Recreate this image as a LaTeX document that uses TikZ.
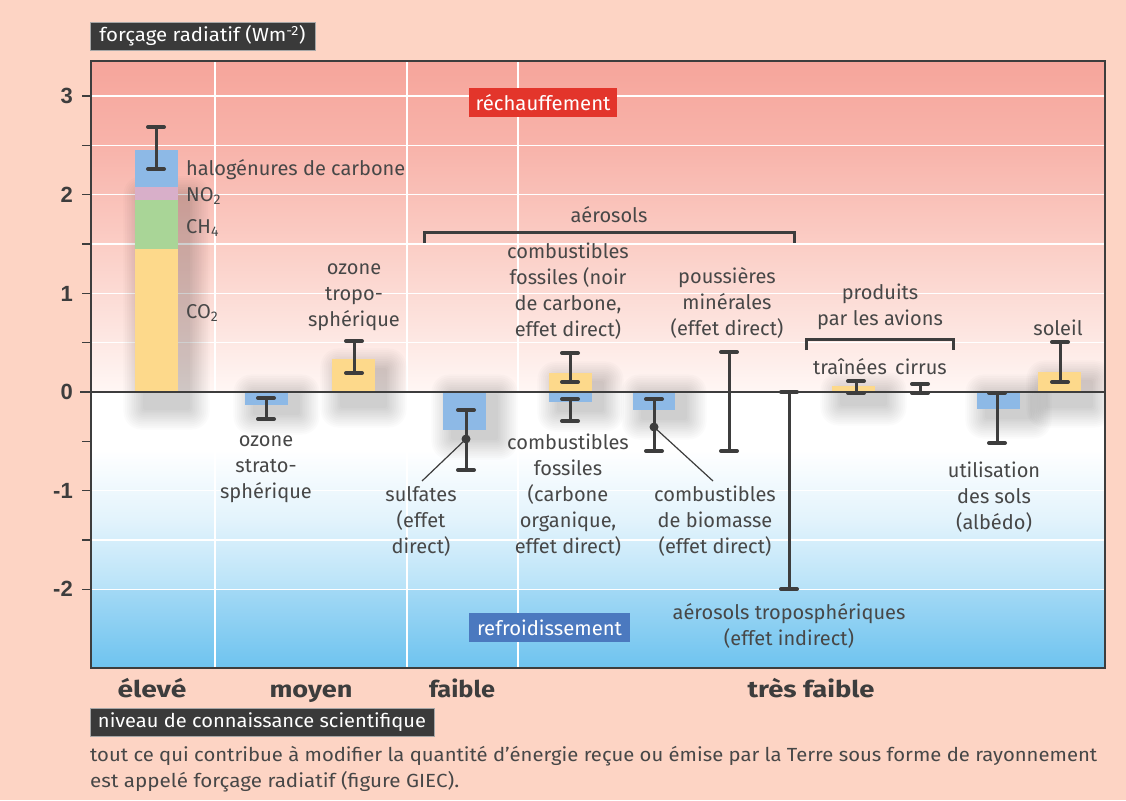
\documentclass[tikz,border=0pt]{standalone}
\usepackage{fontspec}
\usepackage{graphicx}
\setmainfont{Fira Sans}
\newfontfamily\numfont{Liberation Sans}
\definecolor{peach}{HTML}{FDD4C4}
\definecolor{dark}{HTML}{3D3D3D}
\definecolor{txt}{HTML}{474747}
\definecolor{colYel}{HTML}{FDD98B}
\definecolor{colGrn}{HTML}{A9D597}
\definecolor{colPnk}{HTML}{D8AFC9}
\definecolor{colBlu}{HTML}{8DB9E6}
\definecolor{boxdark}{HTML}{3A3A3A}
\definecolor{warmred}{HTML}{E3352B}
\definecolor{coolblue}{HTML}{4B79BF}
\definecolor{sA}{HTML}{F6A59B}
\definecolor{sB}{HTML}{F8B4AB}
\definecolor{sC}{HTML}{FBCFC7}
\definecolor{sD}{HTML}{FDE5E0}
\definecolor{sE}{HTML}{FFF7F5}
\definecolor{sF}{HTML}{E2F3FC}
\definecolor{sG}{HTML}{B7E2F8}
\definecolor{sH}{HTML}{A3D9F5}
\definecolor{sI}{HTML}{6EC3EF}
\newcommand\errbar[4]{%
  \coordinate (#1t) at (#2,#3);
  \coordinate (#1b) at (#2,#4);
  \draw[ebline] (#1t) -- (#1b);
  \draw[ebcap] ([xshift=-8pt]#1t) -- ([xshift=8pt]#1t);
  \draw[ebcap] ([xshift=-8pt]#1b) -- ([xshift=8pt]#1b);}
\newcommand\databar[5]{\fill[#5] (#1,#3) rectangle (#2,#4);}
\newcommand\softshadow[4]{%
  \foreach \r in {1,...,12}
    \fill[black, opacity=0.016, rounded corners=1.5*\r pt]
      (#1+10-\r*1.8,#3+8-\r*1.8) rectangle (#2+10+\r*1.8,#4+8+\r*1.8);}
\begin{document}
\begin{tikzpicture}[x=1pt,y=-1pt,
  lab/.style={font=\fontsize{20}{26}\selectfont, text=txt, align=center, inner sep=0pt},
  num/.style={font=\numfont\bfseries\fontsize{22}{22}\selectfont, text=dark, inner sep=0pt, anchor=east},
  blab/.style={font=\bfseries\fontsize{23}{23}\selectfont, text=dark, inner sep=0pt, anchor=base},
  darkbox/.style={fill=boxdark, draw=gray!70, line width=0.8pt, text=white, inner sep=0pt,
    font=\fontsize{19}{19}\selectfont},
  tagbox/.style={text=white, inner sep=0pt, font=\fontsize{20}{20}\selectfont},
  ebline/.style={draw=dark, line width=3pt},
  ebcap/.style={draw=dark, line width=4pt, line cap=round},
  bracket/.style={draw=dark, line width=3pt},
  leader/.style={draw=dark, line width=1.2pt},
  dotn/.style={circle, fill=dark, inner sep=0pt, minimum size=9pt},
  grid/.style={draw=white, line width=1.5pt}]
\useasboundingbox (0,0) rectangle (1126,800);
\fill[peach] (0,0) rectangle (1126,800);
% plot background
\shade[top color=sA, bottom color=sB] (91,61) rectangle (1105,150.5);
\shade[top color=sB, bottom color=sC] (91,150) rectangle (1105,250.5);
\shade[top color=sC, bottom color=sD] (91,250) rectangle (1105,330.5);
\shade[top color=sD, bottom color=sE] (91,330) rectangle (1105,392.5);
\fill[white] (91,392) rectangle (1105,450.5);
\shade[top color=white, bottom color=sF] (91,450) rectangle (1105,520.5);
\shade[top color=sF, bottom color=sG] (91,520) rectangle (1105,589.5);
\shade[top color=sH, bottom color=sI] (91,589) rectangle (1105,668);
% grid
\foreach \v in {3,2.5,2,1.5,1,0.5,-0.5,-1,-1.5,-2}
  \draw[grid] (91,392-98.67*\v) -- (1105,392-98.67*\v);
\foreach \gx in {215,407,518}
  \draw[grid] (\gx,61) -- (\gx,668);
% ticks
\foreach \v in {3,2.5,2,1.5,1,0.5,-0.5,-1,-1.5,-2}
  \draw[dark, line width=1.5pt] (82,392-98.67*\v) -- (91,392-98.67*\v);
% shadows
\begin{scope}
\clip (91,61) rectangle (1105,668);
\softshadow{135}{178}{190}{400}
\softshadow{245}{288}{388}{405}
\softshadow{332}{375}{362}{398}
\softshadow{443}{486}{388}{430}
\softshadow{549}{592}{375}{402}
\softshadow{633}{675}{388}{410}
\softshadow{832}{875}{386}{396}
\softshadow{977}{1020}{388}{409}
\softshadow{1038}{1081}{374}{398}
\end{scope}
% bars
\databar{135}{178}{249}{392}{colYel}
\databar{135}{178}{200}{249}{colGrn}
\databar{135}{178}{187}{200}{colPnk}
\databar{135}{178}{150}{187}{colBlu}
\databar{245}{288}{392}{405}{colBlu}
\databar{332}{375}{359}{392}{colYel}
\databar{443}{486}{392}{430}{colBlu}
\databar{549}{592}{373}{392}{colYel}
\databar{549}{592}{392}{402}{colBlu}
\databar{633}{675}{392}{410}{colBlu}
\databar{832}{875}{386}{392}{colYel}
\databar{977}{1020}{392}{409}{colBlu}
\databar{1038}{1081}{372}{392}{colYel}
% zero line and frame
\draw[dark, line width=1.5pt] (80,392) -- (1105,392);
\draw[dark, line width=2pt] (91,61) rectangle (1105,668);
% axis numbers
\node[num] (n3) at (73,96) {3};
\node[num] (n2) at (73,195) {2};
\node[num] (n1) at (73,294) {1};
\node[num] (n0) at (73,392) {0};
\node[num] (nm1) at (73,491) {-1};
\node[num] (nm2) at (73,589) {-2};
% error bars
\errbar{e1}{156}{127}{169}
\errbar{e2}{266}{398}{419}
\errbar{e3}{354}{341}{373}
\errbar{e4}{466}{410}{470}
\errbar{e5}{570}{353}{382}
\errbar{e6}{570}{399}{421}
\errbar{e7}{654}{399}{451}
\errbar{e8}{729}{352}{451}
\errbar{e9}{789}{392}{589}
\errbar{e10}{856}{381}{393}
\errbar{e11}{920}{384}{393}
\errbar{e12}{997}{393}{443}
\errbar{e13}{1060}{342}{382}
% dots and leaders
\node[dotn] (sdot) at (466,439) {};
\node[dotn] (bdot) at (654,427) {};
\coordinate (slead) at (422,481);
\coordinate (blead) at (713,481);
\draw[leader] (sdot.center) -- (slead);
\draw[leader] (bdot.center) -- (blead);
% brackets
\coordinate (ab1) at (424,243); \coordinate (ab2) at (794,243);
\draw[bracket] (ab1) -- (424,232) -- (794,232) -- (ab2);
\coordinate (pb1) at (806,350); \coordinate (pb2) at (953,350);
\draw[bracket] (pb1) -- (806,339) -- (953,339) -- (pb2);
% labels
\node[lab, anchor=base west] (lhalo) at (186,175) {halogénures de carbone};
\node[lab, anchor=base west] (lno2) at (186,201) {NO\textsubscript{2}};
\node[lab, anchor=base west] (lch4) at (186,233) {CH\textsubscript{4}};
\node[lab, anchor=base west] (lco2) at (186,318) {CO\textsubscript{2}};
\node[lab] (lostr) at (266,469) {ozone\\strato-\\sphérique};
\node[lab] (lotro) at (354,297) {ozone\\tropo-\\sphérique};
\node[lab] (laer) at (609,215) {aérosols};
\node[lab] (lffbc) at (568,291) {combustibles\\fossiles (noir\\de carbone,\\effet direct)};
\node[lab] (lpous) at (727,303) {poussières\\minérales\\(effet direct)};
\node[lab] (lsulf) at (421,521) {sulfates\\(effet\\direct)};
\node[lab] (lffoc) at (568,495) {combustibles\\fossiles\\(carbone\\organique,\\effet direct)};
\node[lab] (lbio) at (715,521) {combustibles\\de biomasse\\(effet direct)};
\node[lab] (ltrop) at (789,626) {aérosols troposphériques\\(effet indirect)};
\node[lab] (lprod) at (880,307) {produits\\par les avions};
\node[lab] (ltrai) at (850,367) {traînées};
\node[lab] (lcirr) at (921,367) {cirrus};
\node[lab] (lsol) at (1058,328) {soleil};
\node[lab] (lsols) at (994,497) {utilisation\\des sols\\(albédo)};
% tag boxes
\node[tagbox, fill=warmred, minimum width=148pt, minimum height=29pt] (warm) at (543,102.5) {\resizebox{135pt}{\height}{réchauffement}};
\node[tagbox, fill=coolblue, minimum width=161pt, minimum height=29pt] (cool) at (549.5,627.5) {\resizebox{145pt}{\height}{refroidissement}};
\node[darkbox, minimum width=225pt, minimum height=28pt] (ylab) at (202.5,36) {\resizebox{206pt}{\height}{forçage radiatif (Wm\textsuperscript{-2})}};
% bottom
\node[blab] (kel) at (152,697) {\resizebox{69pt}{\height}{élevé}};
\node[blab] (kmo) at (311,697) {\resizebox{83pt}{\height}{moyen}};
\node[blab] (kfa) at (462,697) {\resizebox{66pt}{\height}{faible}};
\node[blab] (ktf) at (811,697) {\resizebox{127pt}{\height}{très faible}};
\node[darkbox, minimum width=344pt, minimum height=28pt] (xlab) at (262,722) {\resizebox{328pt}{\height}{niveau de connaissance scientifique}};
\node[lab, anchor=base west, font=\fontsize{19}{19}\selectfont] (cap1) at (90,761) {\resizebox{1007pt}{\height}{tout ce qui contribue à modifier la quantité d’énergie reçue ou émise par la Terre sous forme de rayonnement}};
\node[lab, anchor=base west, font=\fontsize{19}{19}\selectfont] (cap2) at (90,787) {\resizebox{369pt}{\height}{est appelé forçage radiatif (figure GIEC).}};
\end{tikzpicture}
\end{document}
